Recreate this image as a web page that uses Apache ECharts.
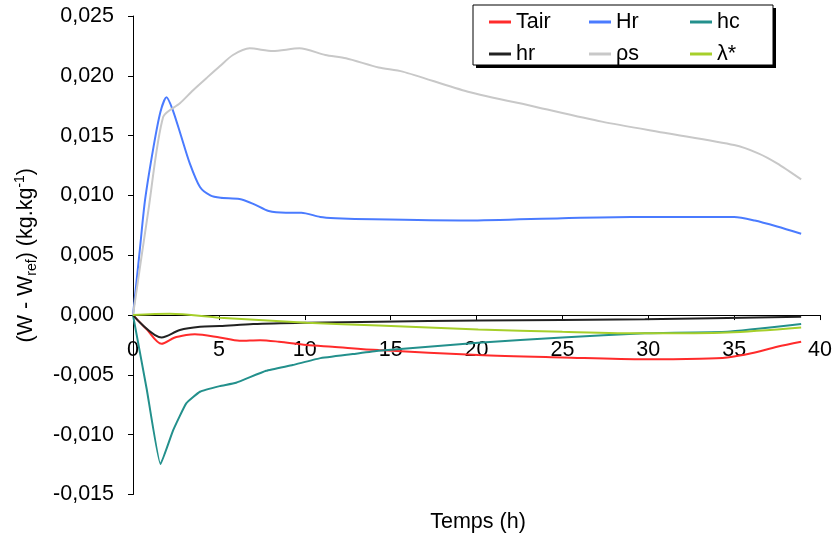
<!DOCTYPE html>
<html><head><meta charset="utf-8">
<script src="https://cdn.jsdelivr.net/npm/echarts@6/dist/echarts.min.js"></script>
<style>html,body{margin:0;padding:0;background:#fff}#c{width:835px;height:537px}</style>
</head><body><div id="c"></div>
<script>
// [time (h), value (kg/kg)]
const seriesNames = ['Tair', 'Hr', 'hc', 'hr', 'ρs', 'λ*'];
const xTicks = [0, 5, 10, 15, 20, 25, 30, 35, 40];
const yTicks = [-0.015, -0.010, -0.005, 0, 0.005, 0.010, 0.015, 0.020, 0.025];

const tair = [[0,0],[0.8,-0.0012],[1.66,-0.0024],[2.4,-0.0019],[3.1,-0.00167],[3.6,-0.0016],[5.05,-0.00187],[6.2,-0.00215],[7.4,-0.0021],[8.5,-0.00223],[10.1,-0.0025],[11.6,-0.00265],[14.3,-0.00293],[20.1,-0.00334],[25,-0.00354],[29.8,-0.0037],[33,-0.00365],[34.6,-0.00354],[36,-0.0032],[37.5,-0.00265],[38.9,-0.00223]];
const hrel = [[0,0],[0.4,0.0055],[0.7,0.0096],[1.2,0.0141],[1.6,0.0170],[1.95,0.0182],[2.3,0.0172],[2.75,0.0152],[3.3,0.0127],[3.9,0.0107],[4.5,0.0100],[5.1,0.0098],[6.2,0.0097],[7.0,0.0093],[7.9,0.0087],[8.9,0.00856],[9.8,0.00856],[10.9,0.0082],[11.8,0.0081],[14,0.0080],[19.5,0.0079],[25,0.0081],[29,0.0082],[35,0.0082],[36.2,0.0079],[37.5,0.0074],[38.9,0.0068]];
const hc = [[0,0],[0.8,-0.0062],[1.6,-0.01246],[2.34,-0.00962],[3.1,-0.00738],[3.9,-0.00641],[5.05,-0.00594],[6.0,-0.00566],[7.75,-0.00466],[9.3,-0.00418],[10.85,-0.00362],[12.8,-0.00326],[14.3,-0.00298],[20.1,-0.00232],[25,-0.00187],[29.8,-0.00153],[34.6,-0.0014],[38.9,-0.00075]];
const hr = [[0,0],[1.66,-0.00187],[2.73,-0.00125],[3.9,-0.00098],[5.05,-0.00092],[7,-0.00075],[10.1,-0.00064],[14.3,-0.00055],[20.1,-0.00046],[29.8,-0.00036],[38.9,-0.00014]];
const rhos = [[0,0],[0.9,0.0088],[1.76,0.01658],[2.73,0.0177],[3.5,0.0188],[4.27,0.0198],[5.05,0.0208],[5.82,0.02174],[6.79,0.0223],[8.14,0.02207],[9.69,0.0223],[11.2,0.02174],[12.4,0.02146],[14.3,0.0207],[15.7,0.02035],[19.5,0.01867],[23.4,0.01742],[27.3,0.01617],[31.1,0.0152],[35,0.01421],[36.4,0.01352],[37.5,0.01268],[38.9,0.01134]];
const lambda = [[0,0],[2.15,0.0001],[5.05,-0.00022],[10.1,-0.00064],[14.3,-0.00088],[20.1,-0.0012],[25,-0.0014],[29.8,-0.00153],[34.6,-0.00145],[38.9,-0.00103]];

const dataSets = [tair, hrel, hc, hr, rhos, lambda];
const colors = ['#ff2b2b', '#4a7bff', '#23908c', '#222222', '#c8c8c8', '#a6cf2a'];
const smoothing = [0.3, 0.25, 0.12, 0.3, 0.25, 0.3];

const FONT = 'Arial, "Liberation Sans", sans-serif';
const FS = 21.5;
const GRID = { left: 133, right: 12, top: 16, bottom: 42.5 };
const H = 537;
const yMin = yTicks[0], yMax = yTicks[yTicks.length - 1];
const plotH = H - GRID.top - GRID.bottom;
// move x axis (line, ticks, labels) up to the y = 0 level
const xAxisOffset = -plotH * (0 - yMin) / (yMax - yMin);

const chart = echarts.init(document.getElementById('c'));

const legendPos = [[489,11],[589,11],[690,11],[489,43],[589,43],[690,43]];
const legends = seriesNames.map((n, i) => ({
  data: [n], left: legendPos[i][0], top: legendPos[i][1], padding: 0,
  icon: 'rect', itemWidth: 22, itemHeight: 3, itemGap: 6,
  textStyle: { fontSize: FS, fontFamily: FONT, color: '#000' },
  selectedMode: false
}));

function fmt(v) {
  if (Math.abs(v) < 1e-9) return '0,000';
  return v.toFixed(3).replace('.', ',');
}

chart.setOption({
  animation: false,
  color: colors,
  grid: GRID,
  legend: legends,
  title: {
    text: 'Temps (h)', left: 478, top: 511, textAlign: 'center', padding: 0,
    textStyle: { fontSize: FS, fontFamily: FONT, color: '#000', fontWeight: 'normal' }
  },
  graphic: [{
    type: 'rect', z: 0,
    shape: { x: 476, y: 8, width: 300, height: 60 },
    style: { fill: '#000' }
  }, {
    type: 'rect', z: 1,
    shape: { x: 473, y: 5, width: 300, height: 60 },
    style: { fill: '#fff', stroke: '#000', lineWidth: 1 }
  }],
  xAxis: {
    type: 'value', min: xTicks[0], max: xTicks[xTicks.length-1], interval: 5, position: 'bottom',
    offset: xAxisOffset,
    axisLine: { show: true, onZero: false, lineStyle: { color: '#000', width: 1 } },
    axisTick: { show: true, length: 5, lineStyle: { color: '#000' } },
    axisLabel: { fontSize: FS, fontFamily: FONT, color: '#000', margin: 24 },
    splitLine: { show: false }
  },
  yAxis: {
    type: 'value', min: yMin, max: yMax, interval: 0.005, position: 'left',
    axisLine: { show: true, onZero: false, lineStyle: { color: '#000', width: 1 } },
    axisTick: { show: true, length: 5, lineStyle: { color: '#000' } },
    axisLabel: { fontSize: FS, fontFamily: FONT, color: '#000', margin: 19, formatter: fmt },
    splitLine: { show: false },
    name: '(W - W{sub|ref}) (kg.kg{sup|-1})', nameLocation: 'middle', nameGap: 94,
    nameTextStyle: {
      fontSize: FS, fontFamily: FONT, color: '#000', lineHeight: 26,
      rich: {
        sub: { fontSize: 14, fontFamily: FONT, color: '#000', lineHeight: 14, verticalAlign: 'bottom' },
        sup: { fontSize: 14, fontFamily: FONT, color: '#000', lineHeight: 14, verticalAlign: 'top' }
      }
    }
  },
  series: seriesNames.map((n, i) => ({
    name: n, type: 'line', data: dataSets[i], smooth: smoothing[i],
    showSymbol: false, symbol: 'none', lineStyle: { width: 2, color: colors[i] }, itemStyle: { color: colors[i] }, z: 2
  }))
});
</script></body></html>
